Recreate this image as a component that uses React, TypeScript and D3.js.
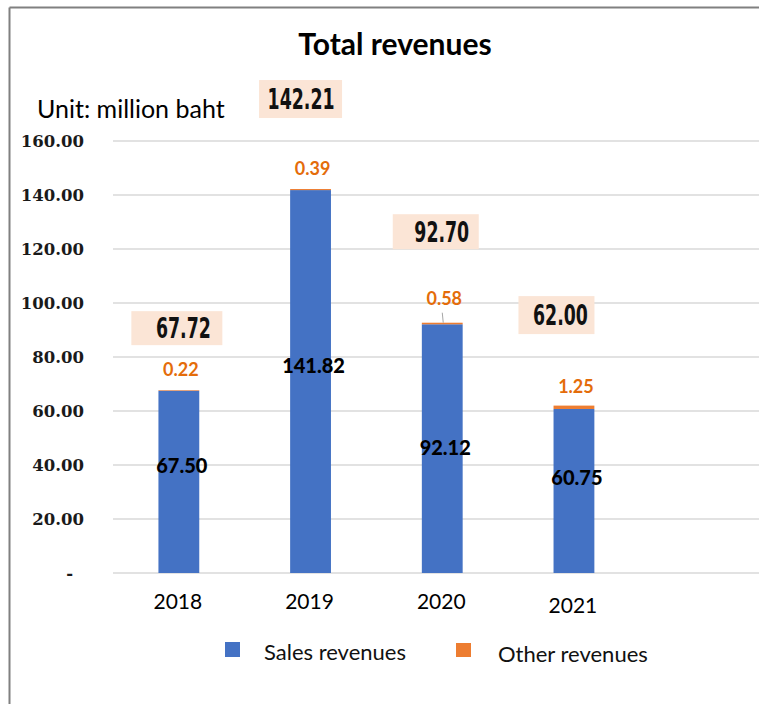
import React from "react";
import * as d3 from "d3";

// ---- data ----
const years = ["2018", "2019", "2020", "2021"];
const salesRevenues = [67.5, 141.82, 92.12, 60.75];
const otherRevenues = [0.22, 0.39, 0.58, 1.25];
const totalRevenues = [67.72, 142.21, 92.7, 62.0];
const yTicks = [0, 20, 40, 60, 80, 100, 120, 140, 160];
const seriesKeys = ["sales", "other"];
const seriesNames = ["Sales revenues", "Other revenues"];
const titleText = "Total revenues";
const unitText = "Unit: million baht";

// ---- layout (hand-placed annotation offsets, as in the reference) ----
const W = 759;
const H = 704;
const plotLeft = 113;
const plotRight = 759;
const colors = { sales: "#4472C4", other: "#ED7D31" };
const salesLabelDy = [-9, -9, 6, -6];
const otherLabelDy = [-14, -14, -18, -13];
const otherLeader = [false, false, true, false];
const totalBoxDx = [-2, -10, -6.5, -17.5];
const totalBoxDy = [-62, -90, -91, -90.5];
const totalBoxW = [91, 83, 86, 76];
const totalBoxH = [34, 38, 35, 38];
const totalTextDx = [6.5, 0.5, 6, 4];
const yearLabelDy = [0, 0, 0, 4];

export default function App() {
  const x = d3
    .scaleBand<string>()
    .domain(years)
    .range([plotLeft, plotLeft + 4 * 131.7])
    .paddingInner(0.69)
    .paddingOuter(0.345);
  const y = d3.scaleLinear().domain([0, 160]).range([573, 141]);

  const rows = years.map((yr, i) => ({
    year: yr,
    sales: salesRevenues[i],
    other: otherRevenues[i],
  }));
  const stacked = d3.stack<any>().keys(seriesKeys)(rows);
  const bw = x.bandwidth();
  const fmt = d3.format(".2f");
  const cx = (yr: string) => (x(yr) as number) + bw / 2;

  return (
    <svg
      width={W}
      height={H}
      style={{ position: "absolute", left: 0, top: 0, display: "block", background: "#fff" }}
    >
      <rect x={0} y={0} width={W} height={H} fill="#fff" />
      {/* frame */}
      <line x1={9.5} y1={7.5} x2={W} y2={7.5} stroke="#808080" strokeWidth={2} />
      <line x1={9.5} y1={7.5} x2={9.5} y2={H} stroke="#808080" strokeWidth={2} />

      {/* title */}
      <text
        x={395}
        y={55}
        textAnchor="middle"
        fontFamily="Lato, 'Open Sans', sans-serif"
        fontWeight={700}
        fontSize={30}
        fill="#000"
      >
        {titleText}
      </text>
      <text x={37} y={118} fontFamily="Lato, 'Open Sans', sans-serif" fontSize={25} fill="#000">
        {unitText}
      </text>

      {/* gridlines + y ticks */}
      {yTicks.map((t) => (
        <g key={t}>
          <line
            x1={plotLeft}
            x2={plotRight}
            y1={y(t)}
            y2={y(t)}
            stroke="#d9d9d9"
            strokeWidth={1.3}
          />
          <text
            x={t === 0 ? 73 : 84}
            y={y(t)}
            dy="0.35em"
            textAnchor="end"
            fontFamily="'DejaVu Serif', serif"
            fontWeight={700}
            fontSize={16.5}
            fill="#1a1a1a"
          >
            {t === 0 ? "-" : fmt(t)}
          </text>
        </g>
      ))}

      {/* bars */}
      {stacked.map((s) => (
        <g key={s.key} fill={(colors as any)[s.key]}>
          {s.map((d: any, i: number) => (
            <rect
              key={i}
              x={x(d.data.year)}
              y={y(d[1])}
              width={bw}
              height={Math.max(0, y(d[0]) - y(d[1]))}
            />
          ))}
        </g>
      ))}

      {/* sales labels */}
      {years.map((yr, i) => (
        <text
          key={"s" + yr}
          x={cx(yr) + 3}
          y={y(salesRevenues[i] / 2) + salesLabelDy[i]}
          textAnchor="middle"
          fontFamily="Lato, sans-serif"
          fontWeight={900}
          fontSize={20}
          fill="#000"
        >
          {fmt(salesRevenues[i])}
        </text>
      ))}

      {/* other labels */}
      {years.map((yr, i) => {
        const top = y(salesRevenues[i] + otherRevenues[i]);
        return (
          <g key={"o" + yr}>
            {otherLeader[i] && (
              <line
                x1={cx(yr)}
                x2={cx(yr) + 1}
                y1={top + otherLabelDy[i] + 8}
                y2={top}
                stroke="#a6a6a6"
                strokeWidth={1}
              />
            )}
            <text
              x={cx(yr) + 2}
              y={top + otherLabelDy[i]}
              textAnchor="middle"
              fontFamily="Lato, sans-serif"
              fontWeight={700}
              fontSize={18}
              fill="#E46C0A"
            >
              {fmt(otherRevenues[i])}
            </text>
          </g>
        );
      })}

      {/* total labels */}
      {years.map((yr, i) => {
        const bcx = cx(yr) + totalBoxDx[i];
        const bcy = y(totalRevenues[i]) + totalBoxDy[i];
        return (
          <g key={"t" + yr}>
            <rect
              x={bcx - totalBoxW[i] / 2}
              y={bcy - totalBoxH[i] / 2}
              width={totalBoxW[i]}
              height={totalBoxH[i]}
              fill="#FBE5D6"
            />
            <text
              transform={`translate(${bcx + totalTextDx[i]},${bcy}) scale(0.62,1)`}
              dy="0.36em"
              textAnchor="middle"
              fontFamily="'DejaVu Sans', sans-serif"
              fontWeight={700}
              fontSize={28}
              fill="#111"
            >
              {fmt(totalRevenues[i])}
            </text>
          </g>
        );
      })}

      {/* x labels */}
      {years.map((yr, i) => (
        <text
          key={"x" + yr}
          x={cx(yr) - 1}
          y={609 + yearLabelDy[i]}
          textAnchor="middle"
          fontFamily="Lato, sans-serif"
          fontSize={21}
          fill="#000"
        >
          {yr}
        </text>
      ))}

      {/* legend */}
      <rect x={225} y={642} width={15} height={15} fill={colors.sales} />
      <text x={264} y={660} fontFamily="Lato, sans-serif" fontSize={22} fill="#111">
        {seriesNames[0]}
      </text>
      <rect x={456} y={643} width={15} height={14} fill={colors.other} />
      <text x={498} y={662} fontFamily="Lato, sans-serif" fontSize={22} fill="#111">
        {seriesNames[1]}
      </text>
    </svg>
  );
}
